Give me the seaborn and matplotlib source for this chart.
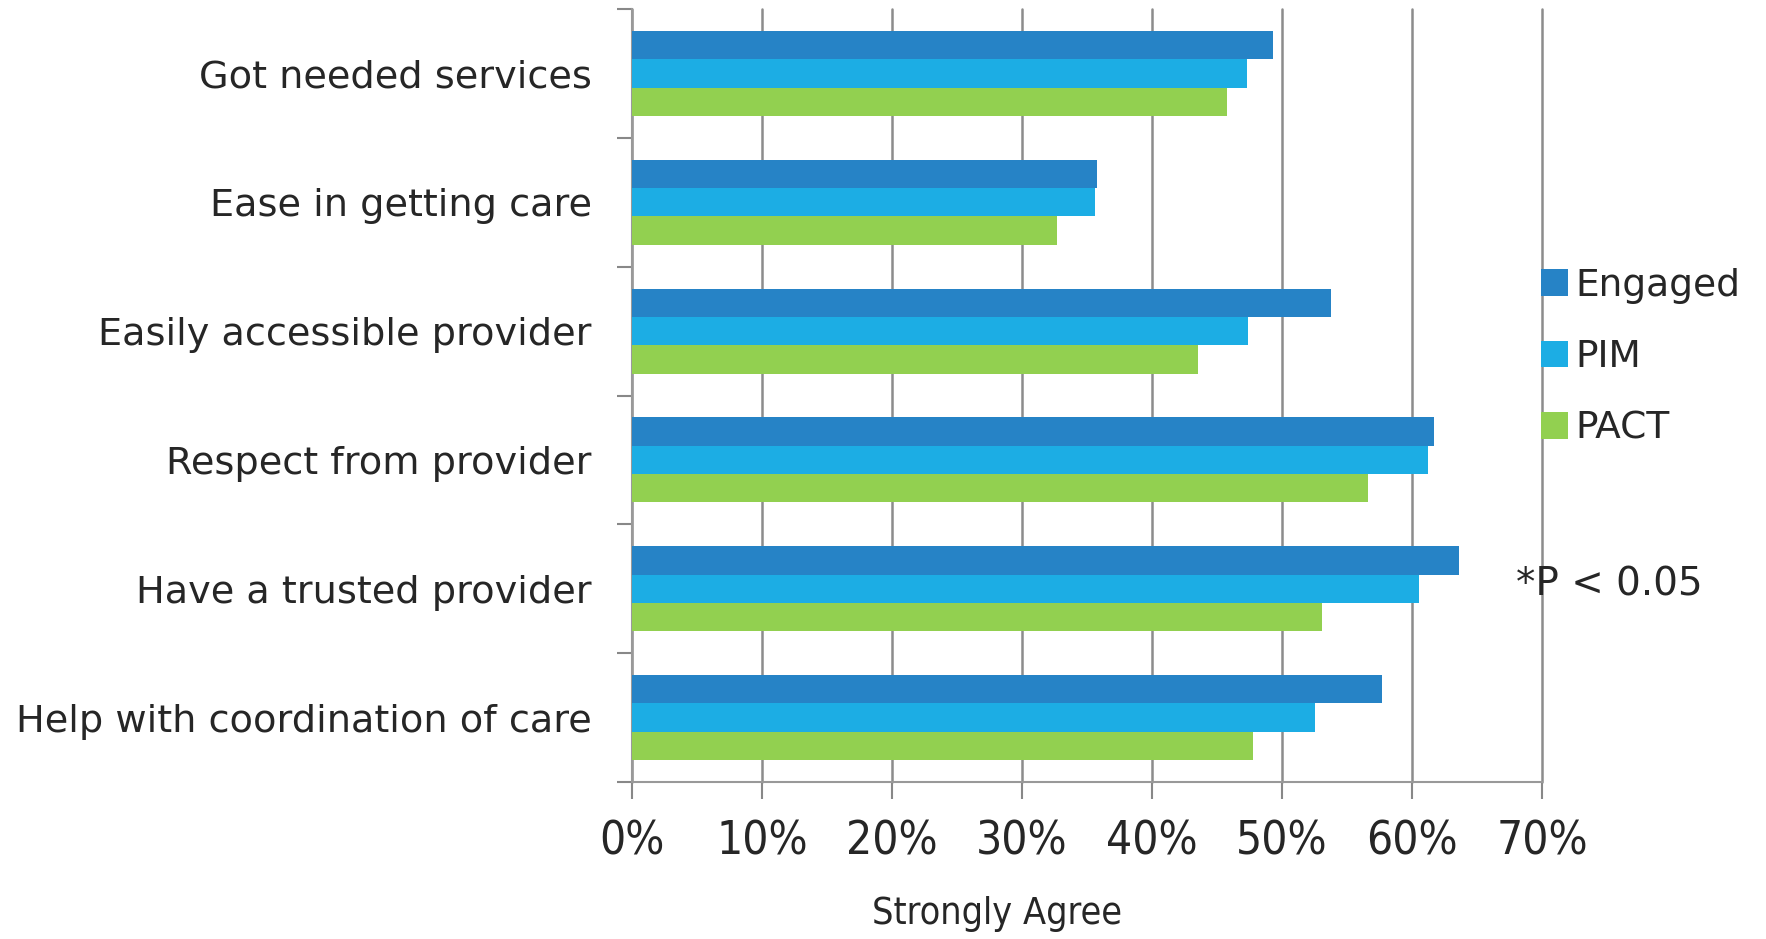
import matplotlib
matplotlib.use("Agg")
import matplotlib.pyplot as plt
import seaborn as sns
import pandas as pd
import numpy as np

categories = ["Got needed services", "Ease in getting care", "Easily accessible provider",
              "Respect from provider", "Have a trusted provider", "Help with coordination of care"]
series = ["Engaged", "PIM", "PACT"]
engaged = [0.493, 0.358, 0.538, 0.617, 0.636, 0.577]
pim = [0.473, 0.356, 0.474, 0.612, 0.605, 0.525]
pact = [0.458, 0.327, 0.435, 0.566, 0.531, 0.478]
xtick_labels = ["0%", "10%", "20%", "30%", "40%", "50%", "60%", "70%"]
colors = ["#2683C6", "#1CADE4", "#92D050"]

df = pd.DataFrame({
    "category": categories * 3,
    "series": [s for s in series for _ in categories],
    "value": engaged + pim + pact,
})

sns.set_theme(style="white")
plt.rcParams["font.family"] = ["DejaVu Sans"]

fig = plt.figure(figsize=(17.66, 9.39), dpi=100)
ax = fig.add_axes([0.3579, 0.1672, 0.5153, 0.8232])

sns.barplot(data=df, x="value", y="category", hue="series", order=categories,
            hue_order=series, palette=colors, orient="h", width=0.66,
            saturation=1, ax=ax, zorder=3, legend=True, linewidth=0)

ax.set_xlim(0, 0.7)
ax.set_ylim(5.5, -0.5)
ax.set_xticks(np.arange(0, 0.71, 0.1))
ax.set_xticklabels(xtick_labels, fontsize=33, fontstretch="condensed")
ax.tick_params(axis="x", which="major", length=12, width=1.5, color="#888888", pad=15)
ax.set_yticks(range(len(categories)))
ax.set_yticklabels(categories, fontsize=27.5)
ax.tick_params(axis="y", which="major", length=0, pad=29)
ax.set_yticks(np.arange(-0.5, 6.0, 1.0), minor=True)
ax.tick_params(axis="y", which="minor", length=11, width=1.5, color="#888888", left=True)
ax.tick_params(axis="x", bottom=True)

ax.grid(axis="x", color="#8c8c8c", linewidth=1.8, zorder=0)
ax.set_axisbelow(True)
for gl in ax.get_xgridlines():
    gl.set_clip_on(False)
for s in ["top", "right"]:
    ax.spines[s].set_visible(False)
for s in ["left", "bottom"]:
    ax.spines[s].set_color("#999999")
    ax.spines[s].set_linewidth(1.5)
ax.set_xlabel("")
ax.set_ylabel("")

leg = ax.legend(loc="upper left", bbox_to_anchor=(0.982, 0.685), frameon=False,
                fontsize=27, handlelength=0.72, handleheight=0.72, handletextpad=0.2,
                labelspacing=0.95, borderaxespad=0)

fig.text(0.8585, 0.378, "*P < 0.05", fontsize=28, ha="left", va="center")
fig.text(0.5645, 0.027, "Strongly Agree", fontsize=27, ha="center", va="center",
         fontstretch="condensed")

fig.savefig("out.png", dpi=100)
